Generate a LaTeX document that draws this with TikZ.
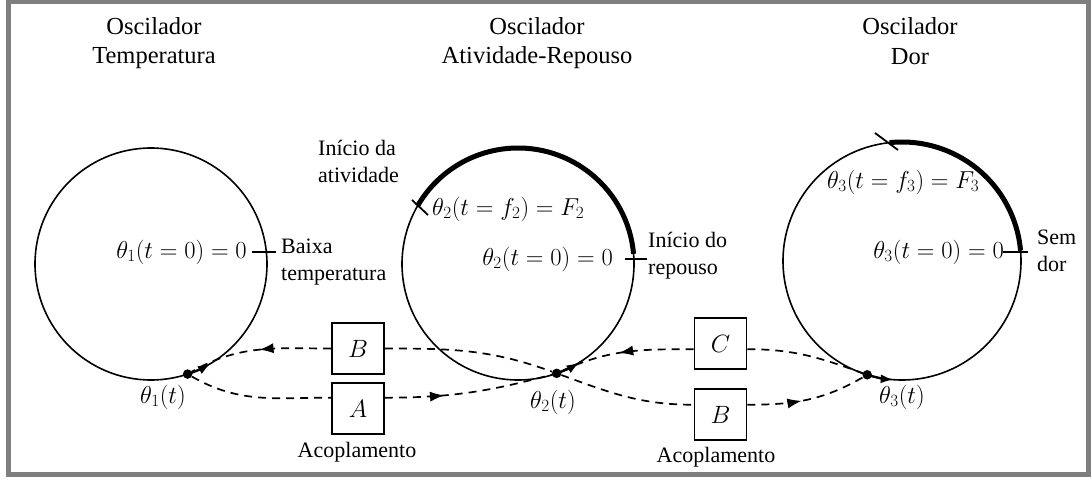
\RequirePackage{fix-cm}
\documentclass[tikz,border=0pt]{standalone}
\usepackage[no-math]{fontspec}
\setmainfont{Liberation Serif}
\usetikzlibrary{arrows.meta,decorations.markings,calc}
\definecolor{framegray}{HTML}{7F7F7F}
\begin{document}
\begin{tikzpicture}[x=1pt,y=1pt,
  ring/.style={draw=black, line width=1.6pt},
  heavy/.style={line width=5pt},
  tickmark/.style={line width=1.8pt},
  cbox/.style={draw, line width=1.6pt, minimum width=52pt, minimum height=51pt, inner sep=0pt, font=\fontsize{25}{29}\selectfont},
  lbl/.style={font=\fontsize{22}{27}\selectfont, align=left, inner sep=0pt},
  mlbl/.style={font=\fontsize{24.5}{29}\selectfont, inner sep=0pt},
  ttl/.style={font=\fontsize{24.5}{29.5}\selectfont, align=center, inner sep=0pt},
  dot/.style={circle, fill, inner sep=0pt, minimum size=9.5pt},
  coupling/.style={dash pattern=on 8pt off 6pt, line width=1.7pt},
  circarrow/.style={line width=2.4pt, -{Latex[length=13pt,width=9pt]}},
  midarrow/.style={postaction={decorate}, decoration={markings, mark=at position #1 with {\arrow[solid,line width=1pt]{Latex[length=14pt,width=10pt]}}}},
]
\useasboundingbox (0,0) rectangle (1092,480);
\fill[white] (0,0) rectangle (1092,480);
\draw[framegray, line width=5pt] (8.5,6) rectangle (1088.5,478.5);

% titles
\node[ttl] (T1) at (154,437) {Oscilador\\Temperatura};
\node[ttl] (T2) at (537,437) {Oscilador\\Atividade-Repouso};
\node[ttl] (T3) at (910,439) {Oscilador\\Dor};

% circles
\coordinate (c1) at (151,216);
\coordinate (c2) at (518,216);
\coordinate (c3) at (902,219);
\draw[ring] (c1) circle[radius=116];
\draw[ring] (c2) circle[radius=116];
\draw[ring] (c3) circle[radius=119];

% thick arcs
\draw[heavy] ([shift={(5:116)}]c2) arc[start angle=5, end angle=150, radius=116];
\draw[heavy] ([shift={(5:119)}]c3) arc[start angle=5, end angle=96, radius=119];

% tick marks
\draw[tickmark] (252,228) -- (276,228);
\draw[tickmark] (625,221) -- (647,221);
\draw[tickmark] (412,280) -- (428,265);
\draw[tickmark] (1003,228) -- (1028,228);
\draw[tickmark] (875,347) -- (898,330);

% dots
\node[dot] (d1) at ($(c1)+(-71.6:116)$) {};
\node[dot] (d2) at ($(c2)+(-70.5:116)$) {};
\node[dot] (d3) at ($(c3)+(-107:119)$) {};

% arrows along circles
\draw[circarrow] ([shift={(-71.6:116)}]c1) arc[start angle=-71.6, end angle=-59, radius=116];
\draw[circarrow] ([shift={(-70.5:116)}]c2) arc[start angle=-70.5, end angle=-58, radius=116];
\draw[circarrow] ([shift={(-107:119)}]c3) arc[start angle=-107, end angle=-94, radius=119];

% coupling boxes
\node[cbox] (bL) at (358,131.5) {$B$};
\node[cbox] (aL) at (358,71.5) {$A$};
\node[cbox] (cR) at (720.5,136.5) {$C$};
\node[cbox] (bR) at (720.5,65.5) {$B$};

% coupling curves
\draw[coupling, midarrow=0.5] (bL.west) to[out=180,in=30] (d1);
\draw[coupling] (bL.east) to[out=0,in=160] (d2) to[out=-20,in=180] (bR.160);
\draw[coupling, midarrow=0.45] (bR.20) to[out=0,in=210] (d3);
\draw[coupling] (d1) to[out=-30,in=180] (aL.158);
\draw[coupling, midarrow=0.35] (aL.22) to[out=0,in=195] (d2);
\draw[coupling, midarrow=0.55] (cR.192) to[out=180,in=25] (d2);
\draw[coupling] (cR.348) to[out=0,in=160] (d3);

% labels
\node[mlbl, anchor=east] (z1) at (247,228) {$\theta_1(t=0)=0$};
\node[lbl, anchor=west] (n1) at (281,218) {Baixa\\temperatura};
\node[lbl, anchor=west] (n2) at (318,319) {Início da\\atividade};
\node[mlbl, anchor=west] (f2) at (432,271) {$\theta_2(t=f_2)=F_2$};
\node[mlbl, anchor=east] (z2) at (613,221) {$\theta_2(t=0)=0$};
\node[lbl, anchor=west] (n3) at (648,224) {Início do\\repouso};
\node[mlbl, anchor=west] (f3) at (827,298) {$\theta_3(t=f_3)=F_3$};
\node[mlbl, anchor=east] (z3) at (1004,228) {$\theta_3(t=0)=0$};
\node[lbl, anchor=west] (n4) at (1037,229) {Sem\\dor};
\node[mlbl] (t1) at (163,83) {$\theta_1(t)$};
\node[mlbl] (t2) at (553,78) {$\theta_2(t)$};
\node[mlbl] (t3) at (902,83) {$\theta_3(t)$};
\node[lbl] (ac1) at (357,28) {Acoplamento};
\node[lbl] (ac2) at (716,23) {Acoplamento};
\end{tikzpicture}
\end{document}
